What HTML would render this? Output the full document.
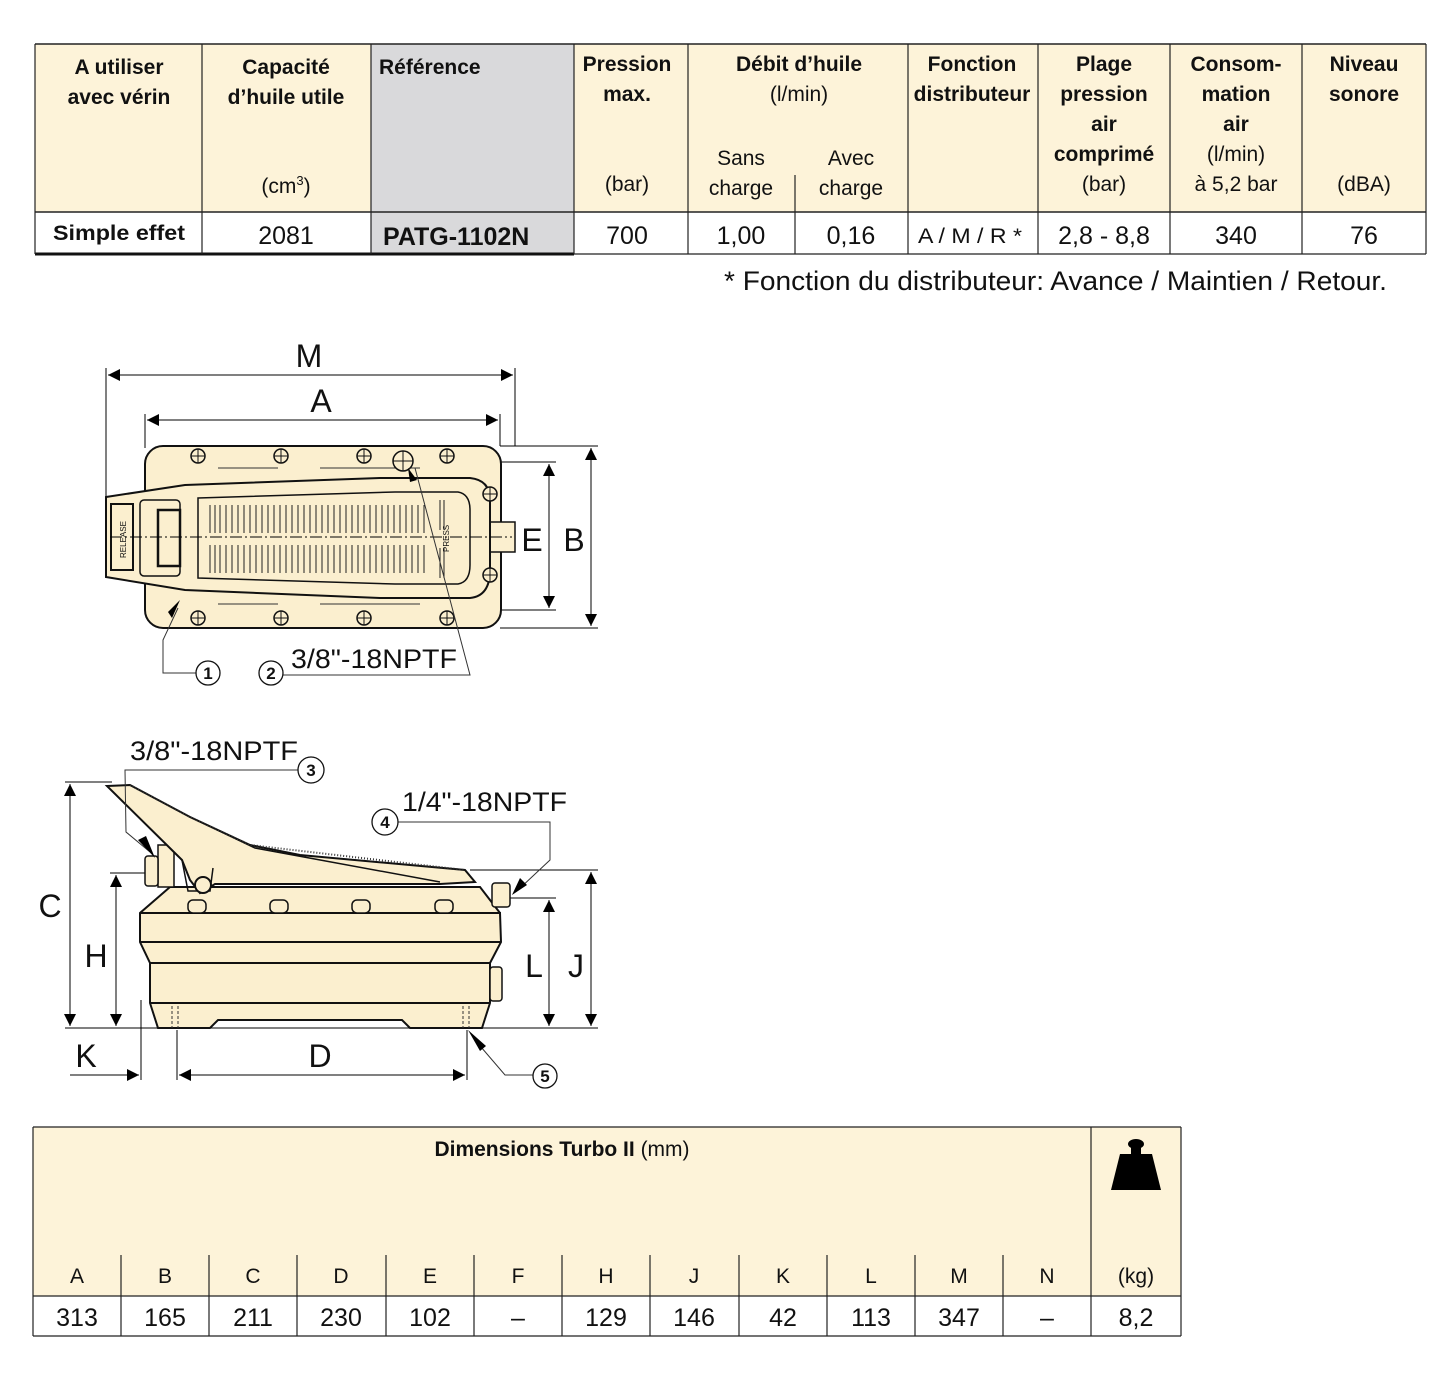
<!DOCTYPE html>
<html><head><meta charset="utf-8"><style>
html,body{margin:0;padding:0;background:#fff;}
svg{display:block}
.h{font-family:"Liberation Sans Narrow","Liberation Sans",sans-serif;font-weight:bold;font-size:21px;fill:#111}
.n{font-family:"Liberation Sans Narrow","Liberation Sans",sans-serif;font-size:21px;fill:#111}
.v{font-family:"Liberation Sans",sans-serif;font-size:25px;fill:#111}
.d{font-family:"Liberation Sans",sans-serif;font-size:32px;fill:#111}
.c{font-family:"Liberation Sans",sans-serif;font-size:17px;font-weight:bold;fill:#111}
</style></head><body>
<svg width="1456" height="1382" viewBox="0 0 1456 1382" xmlns="http://www.w3.org/2000/svg">
<defs>
<marker id="ar2" viewBox="0 0 10 10" refX="10" refY="5" markerWidth="30" markerHeight="12" markerUnits="userSpaceOnUse" orient="auto-start-reverse"><path d="M0,0 L10,5 L0,10 z" fill="#000"/></marker>
</defs>
<!-- TOP TABLE -->
<rect x="35" y="44" width="1391" height="168" fill="#fdf3d9"/>
<rect x="371" y="44" width="203" height="210" fill="#d9d9db"/>
<line x1="35" y1="44" x2="1426" y2="44" stroke="#222" stroke-width="1.5"/>
<line x1="35" y1="212" x2="1426" y2="212" stroke="#222" stroke-width="1.5"/>
<line x1="35" y1="254" x2="574" y2="254" stroke="#111" stroke-width="3"/>
<line x1="574" y1="254" x2="1426" y2="254" stroke="#222" stroke-width="1.2"/>
<g stroke="#222" stroke-width="1.2">
<line x1="35" y1="44" x2="35" y2="254"/><line x1="202" y1="44" x2="202" y2="254"/><line x1="371" y1="44" x2="371" y2="254"/>
<line x1="574" y1="44" x2="574" y2="254"/><line x1="688" y1="44" x2="688" y2="254"/><line x1="795" y1="175" x2="795" y2="254"/>
<line x1="908" y1="44" x2="908" y2="254"/><line x1="1038" y1="44" x2="1038" y2="254"/><line x1="1170" y1="44" x2="1170" y2="254"/>
<line x1="1302" y1="44" x2="1302" y2="254"/><line x1="1426" y1="44" x2="1426" y2="254"/>
</g>
<g text-anchor="middle">
<text class="h" x="119" y="74">A utiliser</text><text class="h" x="119" y="104">avec vérin</text>
<text class="h" x="286" y="74">Capacité</text><text class="h" x="286" y="104">d’huile utile</text>
<text class="n" x="286" y="193">(cm<tspan font-size="13" dy="-8">3</tspan><tspan dy="8">)</tspan></text>
<text class="h" x="627" y="71">Pression</text><text class="h" x="627" y="101">max.</text><text class="n" x="627" y="191">(bar)</text>
<text class="h" x="799" y="71">Débit d’huile</text><text class="n" x="799" y="101">(l/min)</text>
<text class="n" x="741" y="165">Sans</text><text class="n" x="741" y="195">charge</text>
<text class="n" x="851" y="165">Avec</text><text class="n" x="851" y="195">charge</text>
<text class="h" x="972" y="71">Fonction</text><text class="h" x="972" y="101">distributeur</text>
<text class="h" x="1104" y="71">Plage</text><text class="h" x="1104" y="101">pression</text><text class="h" x="1104" y="131">air</text><text class="h" x="1104" y="161">comprimé</text><text class="n" x="1104" y="191">(bar)</text>
<text class="h" x="1236" y="71">Consom-</text><text class="h" x="1236" y="101">mation</text><text class="h" x="1236" y="131">air</text><text class="n" x="1236" y="161">(l/min)</text><text class="n" x="1236" y="191">à 5,2 bar</text>
<text class="h" x="1364" y="71">Niveau</text><text class="h" x="1364" y="101">sonore</text><text class="n" x="1364" y="191">(dBA)</text>
<text class="h" x="119" y="240" font-size="23" textLength="132" lengthAdjust="spacingAndGlyphs">Simple effet</text>
<text class="v" x="286" y="244">2081</text>
<text class="v" x="627" y="244">700</text>
<text class="v" x="741" y="244">1,00</text><text class="v" x="851" y="244">0,16</text>
<text class="n" x="970" y="243" font-size="25" textLength="104" lengthAdjust="spacingAndGlyphs">A / M / R *</text>
<text class="v" x="1104" y="244">2,8 - 8,8</text><text class="v" x="1236" y="244">340</text><text class="v" x="1364" y="244">76</text>
</g>
<text class="h" x="379" y="74">Référence</text>
<text x="383" y="245" font-family="Liberation Sans,sans-serif" font-weight="bold" font-size="25" fill="#111">PATG-1102N</text>
<text x="724" y="290" textLength="663" lengthAdjust="spacingAndGlyphs" font-family="Liberation Sans,sans-serif" font-size="27" fill="#111">* Fonction du distributeur: Avance / Maintien / Retour.</text>

<!-- TOP VIEW -->
<g stroke="#000" stroke-width="1" fill="none">
<line x1="106" y1="368" x2="106" y2="497"/><line x1="515" y1="368" x2="515" y2="446"/>
<line x1="145" y1="414" x2="145" y2="448"/><line x1="500" y1="414" x2="500" y2="446"/>
<line x1="108" y1="375" x2="513" y2="375" marker-start="url(#ar2)" marker-end="url(#ar2)"/>
<line x1="147" y1="420" x2="498" y2="420" marker-start="url(#ar2)" marker-end="url(#ar2)"/>
<line x1="500" y1="446" x2="598" y2="446"/><line x1="470" y1="462" x2="556" y2="462"/>
<line x1="470" y1="610" x2="556" y2="610"/><line x1="500" y1="628" x2="598" y2="628"/>
<line x1="549" y1="464" x2="549" y2="608" marker-start="url(#ar2)" marker-end="url(#ar2)"/>
<line x1="591" y1="448" x2="591" y2="626" marker-start="url(#ar2)" marker-end="url(#ar2)"/>
</g>
<text class="d" x="309" y="367" text-anchor="middle">M</text>
<text class="d" x="321" y="412" text-anchor="middle">A</text>
<text class="d" x="532" y="551" text-anchor="middle">E</text>
<text class="d" x="574" y="551" text-anchor="middle">B</text>
<rect x="145" y="446" width="356" height="182" rx="18" fill="#fbefcf" stroke="#111" stroke-width="2"/>
<path d="M218,468 h60 M218,604 h60 M320,468 h100 M320,604 h100" stroke="#333"/>
<rect x="485" y="522" width="30" height="30" fill="#fbefcf" stroke="#111" stroke-width="1.5"/>
<path d="M106,497 L185,485 L380,478 L470,478 Q490,480 490,500 L490,570 Q490,596 470,598 L380,598 L185,590 L106,577 Z" fill="#fbefcf" stroke="#111" stroke-width="2"/>
<path d="M198,498 L395,492 L458,492 Q470,494 470,510 L470,565 Q470,582 458,584 L395,584 L198,578 Z" fill="#fbefcf" stroke="#111" stroke-width="1.5"/>
<rect x="111" y="504" width="22" height="66" fill="none" stroke="#111" stroke-width="2"/>
<rect x="140" y="500" width="40" height="76" rx="4" fill="none" stroke="#111" stroke-width="1.5"/>
<rect x="158" y="510" width="22" height="56" fill="none" stroke="#111" stroke-width="2.5"/>
<text x="0" y="0" transform="translate(126,558) rotate(-90)" font-family="Liberation Sans,sans-serif" font-size="8" fill="#111">RELEASE</text>
<text x="0" y="0" transform="translate(449,552) rotate(-90)" font-family="Liberation Sans,sans-serif" font-size="8" fill="#111">PRESS</text>
<g stroke="#222" stroke-width="1">
<path d="M210,505v28M215,505v28M220,505v28M226,505v28M232,505v28M238,505v28M244,505v28M250,505v28M256,505v28M262,505v28M268,505v28M274,505v28M280,505v28M286,505v28M292,505v28M298,505v28M304,505v28M310,505v28M316,505v28M322,505v28M328,505v28M334,505v28M340,505v28M346,505v28M352,505v28M358,505v28M364,505v28M370,505v28M376,505v28M382,505v28M388,505v28M394,505v28M400,505v28M406,505v28M412,505v28M418,505v28M424,505v28M440,500v30M444,500v30"/>
<path d="M210,545v28M215,545v28M220,545v28M226,545v28M232,545v28M238,545v28M244,545v28M250,545v28M256,545v28M262,545v28M268,545v28M274,545v28M280,545v28M286,545v28M292,545v28M298,545v28M304,545v28M310,545v28M316,545v28M322,545v28M328,545v28M334,545v28M340,545v28M346,545v28M352,545v28M358,545v28M364,545v28M370,545v28M376,545v28M382,545v28M388,545v28M394,545v28M400,545v28M406,545v28M412,545v28M418,545v28M424,545v28M440,548v30M444,548v30"/>
</g>
<line x1="110" y1="537" x2="512" y2="537" stroke="#000" stroke-dasharray="12,3,2,3"/>
<g fill="#fbefcf" stroke="#111" stroke-width="1.5">
<circle cx="198" cy="456" r="7"/><circle cx="281" cy="456" r="7"/><circle cx="364" cy="456" r="7"/><circle cx="447" cy="456" r="7"/>
<circle cx="198" cy="618" r="7"/><circle cx="281" cy="618" r="7"/><circle cx="364" cy="618" r="7"/><circle cx="447" cy="618" r="7"/>
<circle cx="490" cy="494" r="7"/><circle cx="490" cy="575" r="7"/><circle cx="403" cy="461" r="10"/>
</g>
<g stroke="#111" stroke-width="1"><path d="M191,456h14M198,449v14M274,456h14M281,449v14M357,456h14M364,449v14M440,456h14M447,449v14M191,618h14M198,611v14M274,618h14M281,611v14M357,618h14M364,611v14M440,618h14M447,611v14M483,494h14M490,487v14M483,575h14M490,568v14M393,461h20M403,451v20"/></g>
<g stroke="#333" stroke-width="1" fill="none">
<path d="M178,608 L163,640 L163,673 L196,673"/>
<path d="M283,673 L283,675 L470,675 L415,468"/>
</g>
<path d="M180,600 L172,618 L168,612 Z" fill="#000"/>
<path d="M408,468 L417,480 L410,482 Z" fill="#000"/>
<circle cx="208" cy="673" r="12" fill="#fff" stroke="#111" stroke-width="1.3"/>
<text class="c" x="208" y="679" text-anchor="middle">1</text>
<circle cx="271" cy="673" r="12" fill="#fff" stroke="#111" stroke-width="1.3"/>
<text class="c" x="271" y="679" text-anchor="middle">2</text>
<text x="291" y="668" textLength="166" lengthAdjust="spacingAndGlyphs" font-family="Liberation Sans,sans-serif" font-size="27" fill="#111">3/8"-18NPTF</text>

<!-- SIDE VIEW -->
<g stroke="#000" stroke-width="1" fill="none">
<line x1="65" y1="782" x2="112" y2="782"/><line x1="65" y1="1028" x2="598" y2="1028"/>
<line x1="110" y1="873" x2="150" y2="873"/><line x1="500" y1="898" x2="556" y2="898"/><line x1="470" y1="870" x2="598" y2="870"/>
<line x1="70" y1="784" x2="70" y2="1026" marker-start="url(#ar2)" marker-end="url(#ar2)"/>
<line x1="116" y1="875" x2="116" y2="1026" marker-start="url(#ar2)" marker-end="url(#ar2)"/>
<line x1="549" y1="900" x2="549" y2="1026" marker-start="url(#ar2)" marker-end="url(#ar2)"/>
<line x1="591" y1="872" x2="591" y2="1026" marker-start="url(#ar2)" marker-end="url(#ar2)"/>
<line x1="141" y1="1000" x2="141" y2="1080"/><line x1="177" y1="1030" x2="177" y2="1080"/><line x1="467" y1="1030" x2="467" y2="1080"/>
<line x1="70" y1="1075" x2="139" y2="1075" marker-end="url(#ar2)"/>
<line x1="179" y1="1075" x2="465" y2="1075" marker-start="url(#ar2)" marker-end="url(#ar2)"/>
</g>
<text class="d" x="50" y="917" text-anchor="middle">C</text>
<text class="d" x="96" y="967" text-anchor="middle">H</text>
<text class="d" x="534" y="977" text-anchor="middle">L</text>
<text class="d" x="576" y="977" text-anchor="middle">J</text>
<text class="d" x="86" y="1067" text-anchor="middle">K</text>
<text class="d" x="320" y="1067" text-anchor="middle">D</text>
<path d="M170,887 L480,887 L500,913 L501,942 L490,963 L490,1003 L482,1028 L410,1028 L402,1020 L218,1020 L210,1028 L158,1028 L150,1003 L150,963 L140,942 L140,913 Z" fill="#fbefcf" stroke="#111" stroke-width="2"/>
<g stroke="#111" stroke-width="2"><line x1="140" y1="913" x2="501" y2="913"/><line x1="140" y1="942" x2="501" y2="942"/><line x1="150" y1="963" x2="490" y2="963"/><line x1="150" y1="1003" x2="490" y2="1003"/></g>
<rect x="490" y="967" width="12" height="34" rx="3" fill="#fbefcf" stroke="#111" stroke-width="1.5"/>
<rect x="492" y="883" width="18" height="24" rx="3" fill="#fbefcf" stroke="#111" stroke-width="1.5"/>
<g fill="#fbefcf" stroke="#111" stroke-width="1.5">
<rect x="188" y="900" width="18" height="13" rx="5"/><rect x="270" y="900" width="18" height="13" rx="5"/><rect x="352" y="900" width="18" height="13" rx="5"/><rect x="435" y="900" width="18" height="13" rx="5"/>
</g>
<rect x="158" y="845" width="16" height="42" fill="#fbefcf" stroke="#111" stroke-width="1.5"/>
<rect x="145" y="856" width="13" height="30" rx="3" fill="#fbefcf" stroke="#111" stroke-width="1.5"/>
<path d="M107,786 L130,785 L190,817 L250,845 L300,855 L465,870 L475,882 L440,884 L215,884 L200,893 L190,880 L182,860 Z" fill="#fbefcf" stroke="#111" stroke-width="2"/>
<path d="M182,860 L188,891 L210,891 L213,868" fill="none" stroke="#111" stroke-width="1.5"/>
<path d="M190,817 L255,848 L440,882" fill="none" stroke="#111" stroke-width="1.5"/>
<circle cx="203" cy="885" r="8" fill="#fbefcf" stroke="#111" stroke-width="2"/>
<path d="M130,785 L190,817 L250,845 L465,870" fill="none" stroke="#333" stroke-width="2" stroke-dasharray="1,2"/>
<g stroke="#333" stroke-width="1" stroke-dasharray="3,2" fill="none"><path d="M172,1006v22M178,1006v22M463,1006v22M469,1006v22"/></g>
<g stroke="#333" stroke-width="1" fill="none">
<path d="M300,770 L125,770 L126,832 L150,852"/>
<path d="M397,822 L550,822 L550,860 L518,890"/>
<path d="M475,1040 L505,1075 L533,1075"/>
</g>
<path d="M155,858 L138,840 L146,836 Z" fill="#000"/>
<path d="M512,895 L520,878 L527,885 Z" fill="#000"/>
<path d="M468,1030 L486,1046 L480,1051 Z" fill="#000"/>
<circle cx="311" cy="770" r="13" fill="#fff" stroke="#111" stroke-width="1.3"/><text class="c" x="311" y="776" text-anchor="middle">3</text>
<circle cx="385" cy="822" r="13" fill="#fff" stroke="#111" stroke-width="1.3"/><text class="c" x="385" y="828" text-anchor="middle">4</text>
<circle cx="545" cy="1076" r="12" fill="#fff" stroke="#111" stroke-width="1.3"/><text class="c" x="545" y="1082" text-anchor="middle">5</text>
<text x="130" y="760" textLength="168" lengthAdjust="spacingAndGlyphs" font-family="Liberation Sans,sans-serif" font-size="27" fill="#111">3/8"-18NPTF</text>
<text x="402" y="811" textLength="165" lengthAdjust="spacingAndGlyphs" font-family="Liberation Sans,sans-serif" font-size="27" fill="#111">1/4"-18NPTF</text>

<!-- BOTTOM TABLE -->
<rect x="33" y="1127" width="1148" height="169" fill="#fdf3d9"/>
<line x1="33" y1="1127" x2="1181" y2="1127" stroke="#222" stroke-width="1.2"/>
<line x1="33" y1="1296" x2="1181" y2="1296" stroke="#222" stroke-width="1.2"/>
<line x1="33" y1="1336" x2="1181" y2="1336" stroke="#222" stroke-width="1.2"/>
<g stroke="#222" stroke-width="1.2">
<line x1="33" y1="1127" x2="33" y2="1336"/><line x1="1091" y1="1127" x2="1091" y2="1336"/><line x1="1181" y1="1127" x2="1181" y2="1336"/>
<line x1="121" y1="1255" x2="121" y2="1336"/><line x1="209" y1="1255" x2="209" y2="1336"/><line x1="297" y1="1255" x2="297" y2="1336"/>
<line x1="386" y1="1255" x2="386" y2="1336"/><line x1="474" y1="1255" x2="474" y2="1336"/><line x1="562" y1="1255" x2="562" y2="1336"/>
<line x1="650" y1="1255" x2="650" y2="1336"/><line x1="739" y1="1255" x2="739" y2="1336"/><line x1="827" y1="1255" x2="827" y2="1336"/>
<line x1="915" y1="1255" x2="915" y2="1336"/><line x1="1003" y1="1255" x2="1003" y2="1336"/>
</g>
<text x="562" y="1156" text-anchor="middle" class="n"><tspan font-weight="bold">Dimensions Turbo II</tspan> (mm)</text>
<g text-anchor="middle">
<text class="n" x="77" y="1283">A</text><text class="n" x="165" y="1283">B</text><text class="n" x="253" y="1283">C</text><text class="n" x="341" y="1283">D</text><text class="n" x="430" y="1283">E</text><text class="n" x="518" y="1283">F</text><text class="n" x="606" y="1283">H</text><text class="n" x="694" y="1283">J</text><text class="n" x="783" y="1283">K</text><text class="n" x="871" y="1283">L</text><text class="n" x="959" y="1283">M</text><text class="n" x="1047" y="1283">N</text><text class="n" x="1136" y="1283">(kg)</text>
</g>
<g text-anchor="middle">
<text class="v" x="77" y="1326">313</text><text class="v" x="165" y="1326">165</text><text class="v" x="253" y="1326">211</text><text class="v" x="341" y="1326">230</text><text class="v" x="430" y="1326">102</text><text class="v" x="518" y="1326">–</text><text class="v" x="606" y="1326">129</text><text class="v" x="694" y="1326">146</text><text class="v" x="783" y="1326">42</text><text class="v" x="871" y="1326">113</text><text class="v" x="959" y="1326">347</text><text class="v" x="1047" y="1326">–</text><text class="v" x="1136" y="1326">8,2</text>
</g>
<ellipse cx="1136" cy="1144" rx="8" ry="5" fill="#000"/>
<rect x="1131" y="1146" width="10" height="8" fill="#000"/>
<path d="M1120,1154 L1152,1154 L1161,1190 L1111,1190 Z" fill="#000"/>
</svg>
</body></html>
